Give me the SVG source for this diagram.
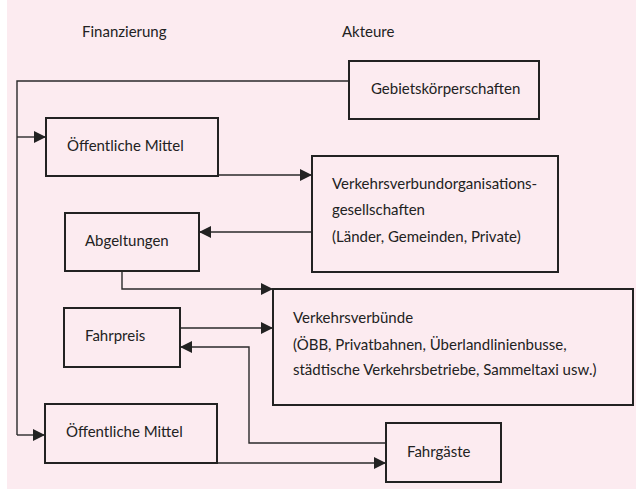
<svg xmlns="http://www.w3.org/2000/svg" width="636" height="495" viewBox="0 0 636 495">
<style>
.bg{fill:#fcebf0}
.box{fill:#fcebf0;stroke:#222;stroke-width:2}
.ln{fill:none;stroke:#2a2a2a;stroke-width:1.4}
text{font-family:"Lato","Liberation Sans",sans-serif;font-size:15px;fill:#222}
</style>
<defs>
<marker id="ah" markerUnits="userSpaceOnUse" markerWidth="13" markerHeight="13" refX="12" refY="6" orient="auto">
<path d="M0,0 L12,6 L0,12 z" fill="#222"/>
</marker>
</defs>
<rect x="0" y="0" width="636" height="495" fill="#ffffff"/>
<rect class="bg" x="7" y="0" width="629" height="489"/>
<text x="82" y="37">Finanzierung</text>
<text x="342" y="37">Akteure</text>
<g id="connectors">
<polyline class="ln" points="349,81 17,81 17,435"/>
<line class="ln" x1="17" y1="137" x2="46" y2="137" marker-end="url(#ah)"/>
<line class="ln" x1="17" y1="435" x2="45" y2="435" marker-end="url(#ah)"/>
<line class="ln" x1="218" y1="175" x2="312" y2="175" marker-end="url(#ah)"/>
<line class="ln" x1="312" y1="232" x2="199" y2="232" marker-end="url(#ah)"/>
<polyline class="ln" points="122,271 122,289 273,289" marker-end="url(#ah)"/>
<line class="ln" x1="180" y1="328" x2="273" y2="328" marker-end="url(#ah)"/>
<polyline class="ln" points="386,443 249,443 249,347 180,347" marker-end="url(#ah)"/>
<line class="ln" x1="217" y1="463" x2="386" y2="463" marker-end="url(#ah)"/>
</g>
<g id="gebiet">
<rect class="box" x="349" y="61" width="190" height="58"/>
<text x="371" y="94">Gebietskörperschaften</text>
</g>
<g id="oeff1">
<rect class="box" x="46" y="118" width="172" height="58"/>
<text x="67" y="151">Öffentliche Mittel</text>
</g>
<g id="vvo">
<rect class="box" x="312" y="156" width="246" height="116"/>
<text x="332" y="189">Verkehrsverbundorganisations-</text>
<text x="332" y="215">gesellschaften</text>
<text x="332" y="242">(Länder, Gemeinden, Private)</text>
</g>
<g id="abgeltungen">
<rect class="box" x="65" y="213" width="134" height="58"/>
<text x="85" y="246">Abgeltungen</text>
</g>
<g id="vv">
<rect class="box" x="273" y="289" width="360" height="116"/>
<text x="293" y="323">Verkehrsverbünde</text>
<text x="293" y="350">(ÖBB, Privatbahnen, Überlandlinienbusse,</text>
<text x="293" y="375">städtische Verkehrsbetriebe, Sammeltaxi usw.)</text>
</g>
<g id="fahrpreis">
<rect class="box" x="64" y="308" width="116" height="59"/>
<text x="85" y="341">Fahrpreis</text>
</g>
<g id="oeff2">
<rect class="box" x="45" y="404" width="172" height="59"/>
<text x="66" y="437">Öffentliche Mittel</text>
</g>
<g id="fahrgaeste">
<rect class="box" x="386" y="423" width="115" height="59"/>
<text x="407" y="457">Fahrgäste</text>
</g>
</svg>
